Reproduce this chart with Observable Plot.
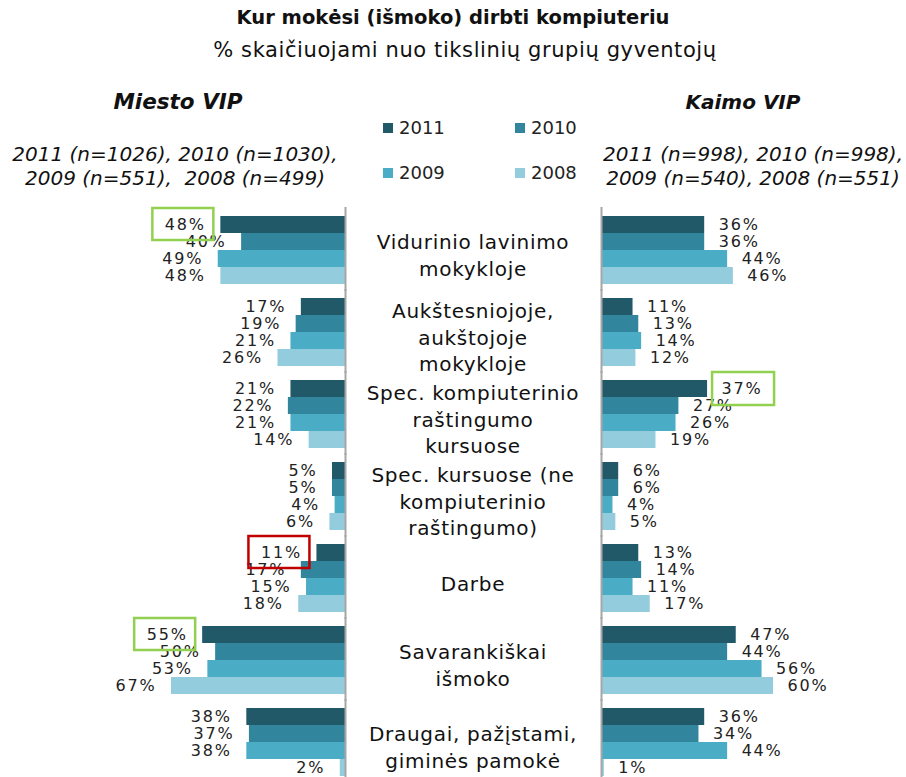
<!DOCTYPE html>
<html><head><meta charset="utf-8">
<script src="https://cdn.jsdelivr.net/npm/d3@7"></script>
<script src="https://cdn.jsdelivr.net/npm/@observablehq/plot@0.6"></script>
<style>
body{margin:0;background:#fff;font-family:"DejaVu Sans",Verdana,sans-serif;color:#111}
#wrap{position:relative;width:906px;height:777px;overflow:hidden;background:#fff}
.abs{position:absolute;white-space:pre;line-height:1}
.plot{position:absolute;top:205px}
</style></head><body><div id="wrap"></div>
<script>
const title = "Kur mokėsi (išmoko) dirbti kompiuteriu";
const subtitle = "% skaičiuojami nuo tikslinių grupių gyventojų";
const leftTitle = "Miesto VIP";
const rightTitle = "Kaimo VIP";
const leftNote = ["2011 (n=1026), 2010 (n=1030),", "2009 (n=551),  2008 (n=499)"];
const rightNote = ["2011 (n=998), 2010 (n=998),", "2009 (n=540), 2008 (n=551)"];
const years = ["2011", "2010", "2009", "2008"];
const colors = ["#215968", "#31859C", "#4BACC6", "#93CDDD"];
const categories = [
  "Vidurinio lavinimo mokykloje",
  "Aukštesniojoje, aukštojoje mokykloje",
  "Spec. kompiuterinio raštingumo kursuose",
  "Spec. kursuose (ne kompiuterinio raštingumo)",
  "Darbe",
  "Savarankiškai išmoko",
  "Draugai, pažįstami, giminės pamokė"
];
const categoryLines = [
  "Vidurinio lavinimo\nmokykloje",
  "Aukštesniojoje,\naukštojoje\nmokykloje",
  "Spec. kompiuterinio\nraštingumo\nkursuose",
  "Spec. kursuose (ne\nkompiuterinio\nraštingumo)",
  "Darbe",
  "Savarankiškai\nišmoko",
  "Draugai, pažįstami,\ngiminės pamokė"
];
const miesto2011 = [48, 17, 21, 5, 11, 55, 38];
const miesto2010 = [40, 19, 22, 5, 17, 50, 37];
const miesto2009 = [49, 21, 21, 4, 15, 53, 38];
const miesto2008 = [48, 26, 14, 6, 18, 67, 2];
const kaimo2011 = [36, 11, 37, 6, 13, 47, 36];
const kaimo2010 = [36, 13, 27, 6, 14, 44, 34];
const kaimo2009 = [44, 14, 26, 4, 11, 56, 44];
const kaimo2008 = [46, 12, 19, 5, 17, 60, 1];
// highlighted labels: [side, category index, year, colour]
const highlights = [
  ["left", 0, "2011", "#92D050"],
  ["left", 4, "2011", "#C00000"],
  ["left", 5, "2011", "#92D050"],
  ["right", 2, "2011", "#92D050"]
];

function rows(series) {
  const out = [];
  categories.forEach((c, i) => years.forEach((y, j) => out.push({cat: c, year: y, value: series[j][i]})));
  return out;
}
const leftData = rows([miesto2011, miesto2010, miesto2009, miesto2008]);
const rightData = rows([kaimo2011, kaimo2010, kaimo2009, kaimo2008]);
const hl = side => highlights.filter(h => h[0] === side).map(h => {
  const d = (side === "left" ? leftData : rightData).find(r => r.cat === categories[h[1]] && r.year === h[2]);
  return {...d, color: h[3]};
});

const wrap = document.getElementById("wrap");
function addText(txt, css) {
  const el = document.createElement("div");
  el.className = "abs";
  el.textContent = txt;
  Object.assign(el.style, css);
  wrap.appendChild(el);
  return el;
}
addText(title, {left: "0px", width: "906px", textAlign: "center", top: "8px", fontSize: "19.5px", fontWeight: "bold"});
addText(subtitle, {left: "12px", width: "906px", textAlign: "center", top: "40px", fontSize: "21px", letterSpacing: "0.6px"});
addText(leftTitle, {left: "78px", width: "200px", textAlign: "center", top: "91px", fontSize: "21.5px", fontWeight: "bold", fontStyle: "italic"});
addText(rightTitle, {left: "643px", width: "200px", textAlign: "center", top: "92px", fontSize: "20px", fontWeight: "bold", fontStyle: "italic"});
leftNote.forEach((t, i) => addText(t, {left: "0px", width: "350px", textAlign: "center", top: (144 + i * 24) + "px", fontSize: "20px", fontStyle: "italic"}));
rightNote.forEach((t, i) => addText(t, {left: "600px", width: "306px", textAlign: "center", top: (144 + i * 24) + "px", fontSize: "20px", fontStyle: "italic"}));
// legend
years.forEach((y, i) => {
  const lx = i % 2 === 0 ? 383 : 515;
  const ly = i < 2 ? 123 : 168;
  const sq = document.createElement("div");
  sq.className = "abs";
  Object.assign(sq.style, {left: lx + "px", top: ly + "px", width: "10px", height: "10px", background: colors[i]});
  wrap.appendChild(sq);
  addText(y, {left: (lx + 16) + "px", top: (ly - 4) + "px", fontSize: "18px", color: "#222"});
});

const H = 572, MT = 10, MB = 1;
const fyScale = {domain: categories, axis: null, paddingInner: 0.16, paddingOuter: 0};
const yScale = {domain: years, axis: null, padding: 0};
const labelStyle = {fontSize: 16, fill: "#222"};
const sideStyle = {fontFamily: "DejaVu Sans, Verdana, sans-serif", overflow: "visible", background: "transparent", letterSpacing: "1.8px"};

const left = Plot.plot({
  width: 345, height: H, marginTop: MT, marginBottom: MB, marginLeft: 171, marginRight: 0,
  style: sideStyle,
  x: {domain: [0, 67], reverse: true, axis: null},
  y: yScale, fy: fyScale,
  color: {domain: years, range: colors},
  marks: [
    Plot.barX(leftData, {x: "value", y: "year", fy: "cat", fill: "year"}),
    Plot.ruleX([0], {stroke: "#a6a6a6", strokeWidth: 2, insetTop: -8, insetBottom: -7}),
    Plot.text(leftData, {x: "value", y: "year", fy: "cat", text: d => d.value + "%", textAnchor: "end", dx: -15, ...labelStyle}),
    Plot.barX(hl("left"), {x1: "value", x2: "value", y: "year", fy: "cat", fill: "none", stroke: "color", strokeWidth: 2.5,
      insetLeft: -68, insetRight: 7, insetTop: -8, insetBottom: -7})
  ]
});
left.classList.add("plot");
left.style.left = "0px";
wrap.appendChild(left);

const center = Plot.plot({
  width: 255, height: H, marginTop: MT, marginBottom: MB, marginLeft: 0, marginRight: 0,
  style: {fontFamily: "DejaVu Sans, Verdana, sans-serif", background: "transparent", overflow: "visible", letterSpacing: "0.7px"},
  fy: fyScale,
  marks: [
    Plot.text(categories.map((c, i) => ({cat: c, label: categoryLines[i]})), {
      fy: "cat", text: "label", frameAnchor: "middle", lineAnchor: "middle", lineHeight: 1.33, fontSize: 20, dy: 4, fill: "#111"})
  ]
});
center.classList.add("plot");
center.style.left = "345px";
wrap.appendChild(center);

const right = Plot.plot({
  width: 306, height: H, marginTop: MT, marginBottom: MB, marginLeft: 1, marginRight: 133,
  style: sideStyle,
  x: {domain: [0, 60], axis: null},
  y: yScale, fy: fyScale,
  color: {domain: years, range: colors},
  marks: [
    Plot.barX(rightData, {x: "value", y: "year", fy: "cat", fill: "year"}),
    Plot.ruleX([0], {stroke: "#a6a6a6", strokeWidth: 2, insetTop: -8, insetBottom: -7}),
    Plot.text(rightData, {x: "value", y: "year", fy: "cat", text: d => d.value + "%", textAnchor: "start", dx: 14, ...labelStyle}),
    Plot.barX(hl("right"), {x1: "value", x2: "value", y: "year", fy: "cat", fill: "none", stroke: "color", strokeWidth: 2.5,
      insetLeft: 5, insetRight: -67, insetTop: -8, insetBottom: -8})
  ]
});
right.classList.add("plot");
right.style.left = "600px";
wrap.appendChild(right);
</script></body></html>
